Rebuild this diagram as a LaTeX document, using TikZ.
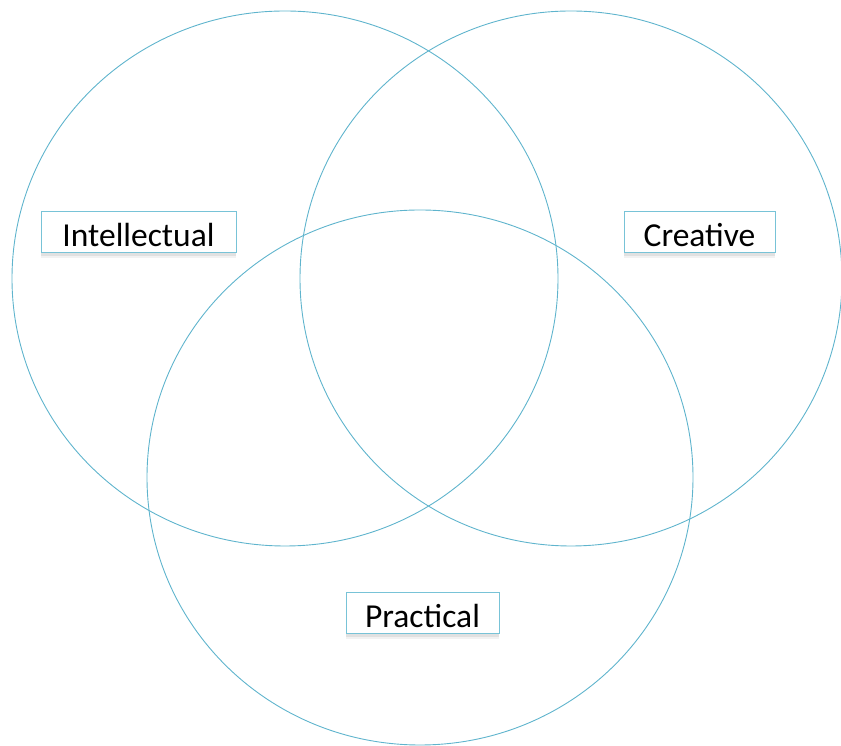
\documentclass[tikz,border=0pt]{standalone}
\usepackage{fontspec}
\setmainfont{Carlito}
\usetikzlibrary{shadows}
\definecolor{ring}{RGB}{95,180,205}
\definecolor{boxline}{RGB}{120,195,215}
\tikzset{
  ring/.style={draw=ring, line width=0.9pt},
  lbl/.style={draw=boxline, line width=1pt, fill=white, inner sep=0pt, font=\fontsize{33.5}{36}\selectfont,
    text height=29pt, text depth=0pt,
    drop shadow={shadow xshift=0pt, shadow yshift=-3pt, opacity=0.07, fill=black},
    drop shadow={shadow xshift=0pt, shadow yshift=-5pt, opacity=0.05, fill=black}},
}
\begin{document}
\begin{tikzpicture}[x=1pt,y=1pt]
\useasboundingbox (0,0) rectangle (841,746);
\begin{scope}
\clip (0,0) rectangle (841,746);
\draw[ring] (285,467.5) ellipse [x radius=273, y radius=267.5];
\draw[ring] (571,467.5) ellipse [x radius=271, y radius=267.5];
\draw[ring] (420,268.5) ellipse [x radius=273, y radius=267.5];
\end{scope}
\node[lbl, minimum width=195, minimum height=41] (intel) at (138.5,513.5) {Intellectual};
\node[lbl, minimum width=151, minimum height=41] (creat) at (699.5,513.5) {Creative};
\node[lbl, minimum width=153, minimum height=41] (pract) at (422.5,132.5) {Practical};
\end{tikzpicture}
\end{document}
